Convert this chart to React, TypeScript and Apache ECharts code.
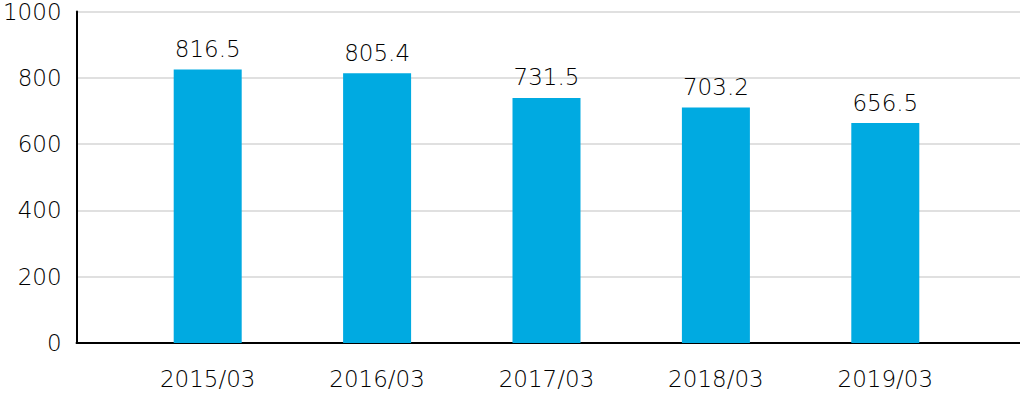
import React, { useEffect, useRef } from "react";
import * as echarts from "echarts";

const categories = ["2015/03", "2016/03", "2017/03", "2018/03", "2019/03"];
const values = [816.5, 805.4, 731.5, 703.2, 656.5];
const yTicks = { min: 0, max: 1000, interval: 200 };

const FONT = "'DejaVu Sans', sans-serif";
const FS = 23;
const FW = 200;
const TXT = "#000";

export default function App() {
  const ref = useRef<HTMLDivElement>(null);
  useEffect(() => {
    if (!ref.current) return;
    const chart = echarts.init(ref.current, undefined, { renderer: "svg" });
    chart.setOption({
      animation: false,
      textStyle: { fontFamily: FONT },
      grid: [
        { left: 76, right: 0, top: 8, bottom: 53, containLabel: false },
        { left: 123, right: 50, top: 8, bottom: 53, containLabel: false },
      ],
      xAxis: [
        {
          type: "category",
          gridIndex: 0,
          data: [""],
          axisLine: { show: true, lineStyle: { color: "#000", width: 2 } },
          axisTick: { show: false },
          axisLabel: { show: false },
        },
        {
          type: "category",
          gridIndex: 1,
          data: categories,
          axisLine: { show: false },
          axisTick: { show: false },
          axisLabel: { color: TXT, fontSize: FS, fontWeight: FW, margin: 24, fontFamily: FONT },
        },
      ],
      yAxis: [
        {
          type: "value",
          gridIndex: 0,
          min: yTicks.min,
          max: yTicks.max,
          interval: yTicks.interval,
          axisLine: { show: true, lineStyle: { color: "#000", width: 2 } },
          axisTick: { show: false },
          axisLabel: {
            color: TXT,
            fontSize: FS,
            fontWeight: FW,
            margin: 15,
            fontFamily: FONT,
            formatter: (v: number) => String(v),
          },
          splitLine: { show: true, lineStyle: { color: "#e0e0e0", width: 2 } },
        },
        {
          type: "value",
          gridIndex: 1,
          min: yTicks.min,
          max: yTicks.max,
          interval: yTicks.interval,
          show: false,
          splitLine: { show: false },
        },
      ],
      series: [
        {
          type: "bar",
          xAxisIndex: 1,
          yAxisIndex: 1,
          data: values,
          barWidth: 68,
          itemStyle: { color: "#00AAE1" },
          label: {
            show: true,
            position: "top",
            distance: 9,
            color: TXT,
            fontSize: FS,
            fontWeight: FW,
            fontFamily: FONT,
          },
        },
      ],
    });
    return () => chart.dispose();
  }, []);
  return <div ref={ref} style={{ width: 1020, height: 396, position: "absolute", left: 0, top: 0 }} />;
}
